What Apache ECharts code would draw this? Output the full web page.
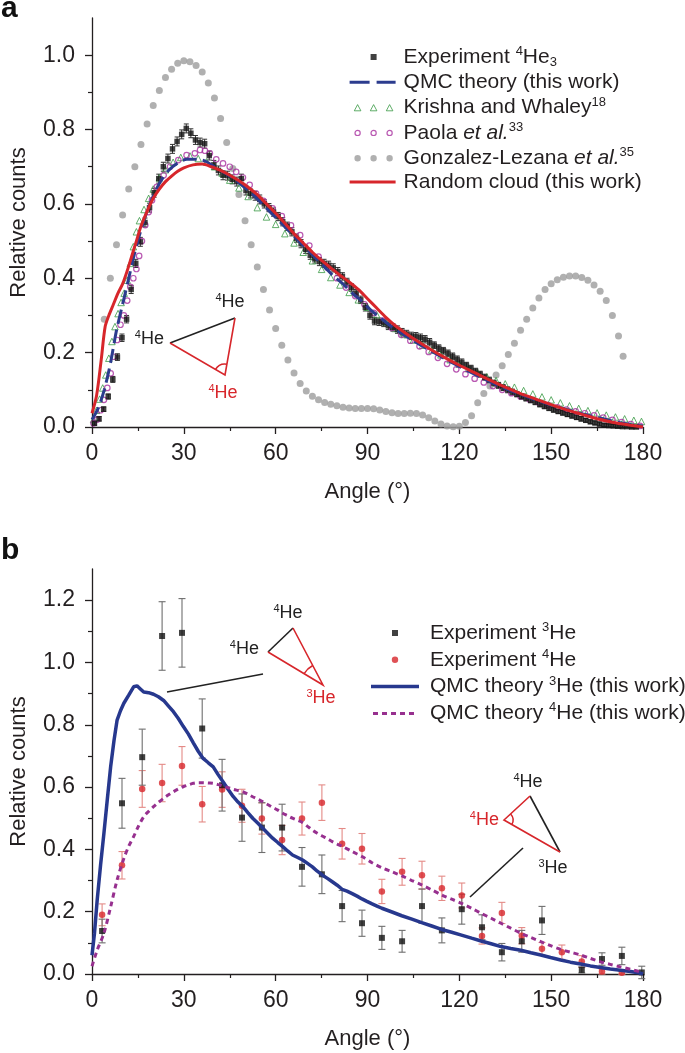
<!DOCTYPE html>
<html><head><meta charset="utf-8">
<script src="https://cdn.jsdelivr.net/npm/echarts@6/dist/echarts.min.js"></script>
<style>html,body{margin:0;padding:0;background:#fff}#c{width:685px;height:1053px}</style>
</head><body><div id="c"></div>
<script>
const FONT = '"Liberation Sans", Arial, Helvetica, sans-serif';
const TXT = '#231f20', AX = '#231f20';

// ---------- tick labels ----------
const xTicks = [0, 30, 60, 90, 120, 150, 180];
const yTicksA = [0, 0.2, 0.4, 0.6, 0.8, 1.0];
const yMinorA = [0.1, 0.3, 0.5, 0.7, 0.9];
const yTicksB = [0, 0.2, 0.4, 0.6, 0.8, 1.0, 1.2];
const yMinorB = [0.1, 0.3, 0.5, 0.7, 0.9, 1.1];

// ---------- panel a ----------
// [angle, relative counts, error]
const expHe3 = [
[0.8,0.010,0.005],[2.3,0.022,0.006],[3.8,0.048,0.006],[5.3,0.082,0.007],[6.8,0.128,0.008],[8.3,0.188,0.009],
[9.8,0.240,0.010],[11.3,0.290,0.010],[12.8,0.370,0.011],[14.3,0.440,0.011],[15.8,0.498,0.012],[17.3,0.550,0.012],
[18.8,0.590,0.012],[20.3,0.630,0.012],[21.8,0.668,0.012],[23.3,0.700,0.012],[24.8,0.722,0.012],[26.3,0.748,0.012],
[27.8,0.768,0.012],[29.3,0.787,0.012],[30.8,0.803,0.012],[32.3,0.790,0.012],[33.8,0.772,0.012],[35.3,0.765,0.012],
[36.8,0.762,0.012],[38.3,0.730,0.012],[39.8,0.705,0.012],[41.3,0.690,0.012],[42.8,0.677,0.012],[44.3,0.676,0.012],
[45.8,0.666,0.012],[47.3,0.660,0.012],[48.8,0.668,0.012],[50.3,0.636,0.012],[51.8,0.628,0.012],[53.3,0.622,0.012],
[54.8,0.612,0.012],[56.3,0.600,0.011],[57.8,0.590,0.011],[59.3,0.578,0.011],[60.8,0.566,0.011],[62.3,0.552,0.011],
[63.8,0.540,0.011],[65.3,0.525,0.011],[66.8,0.508,0.011],[68.3,0.493,0.011],[69.8,0.478,0.011],[71.3,0.462,0.011],
[72.8,0.452,0.011],[74.3,0.445,0.011],[75.8,0.440,0.011],[77.3,0.435,0.011],[78.8,0.428,0.011],[80.3,0.418,0.011],
[81.8,0.405,0.010],[83.3,0.390,0.010],[84.8,0.375,0.010],[86.3,0.360,0.010],[87.8,0.342,0.010],[89.3,0.322,0.010],
[90.8,0.300,0.010],[92.3,0.285,0.010],[93.8,0.283,0.010],[95.3,0.280,0.010],[96.8,0.272,0.010],[98.3,0.268,0.010],
[99.8,0.262,0.010],[101.3,0.255,0.010],[102.8,0.250,0.010],[104.3,0.245,0.010],[105.8,0.244,0.010],[107.3,0.240,0.010],
[108.8,0.236,0.010],[110.3,0.228,0.010],[111.8,0.220,0.009],[113.3,0.212,0.009],[114.8,0.205,0.009],[116.3,0.198,0.009],
[117.8,0.190,0.009],[119.3,0.182,0.009],[120.8,0.174,0.009],[122.3,0.166,0.008],[123.8,0.158,0.008],[125.3,0.150,0.008],
[126.8,0.142,0.008],[128.3,0.134,0.008],[129.8,0.126,0.008],[131.3,0.118,0.008],[132.8,0.112,0.008],[134.3,0.106,0.008],
[135.8,0.100,0.008],[137.3,0.094,0.008],[138.8,0.088,0.007],[140.3,0.082,0.007],[141.8,0.077,0.007],[143.3,0.072,0.007],
[144.8,0.067,0.007],[146.3,0.061,0.007],[147.8,0.056,0.007],[149.3,0.051,0.007],[150.8,0.046,0.006],[152.3,0.042,0.006],
[153.8,0.038,0.006],[155.3,0.034,0.006],[156.8,0.030,0.006],[158.3,0.026,0.006],[159.8,0.022,0.006],[161.3,0.018,0.005],
[162.8,0.014,0.005],[164.3,0.011,0.005],[165.8,0.008,0.005],[167.3,0.005,0.004],[168.8,0.004,0.004],[170.3,0.003,0.004],
[171.8,0.002,0.004],[173.3,0.001,0.003],[174.8,0.001,0.003],[176.3,0.000,0.003],[177.8,0.000,0.003]];

const qmcTheory = [[0,0.02],[2,0.05],[4,0.1],[6,0.17],[8,0.26],[10,0.33],[12,0.40],[14,0.47],[16,0.53],[18,0.58],[20,0.62],[22,0.655],[25,0.69],[28,0.71],[31,0.72],[34,0.72],[37,0.715],[40,0.70],[43,0.685],[46,0.67],[49,0.65],[52,0.63],[55,0.605],[58,0.58],[61,0.555],[64,0.53],[67,0.505],[70,0.48],[73,0.455],[76,0.43],[79,0.405],[82,0.385],[85,0.36],[88,0.34],[91,0.315],[94,0.295],[97,0.275],[100,0.258],[105,0.232],[110,0.208],[115,0.185],[120,0.163],[125,0.142],[130,0.122],[135,0.104],[140,0.088],[145,0.073],[150,0.059],[155,0.047],[160,0.036],[165,0.026],[170,0.016],[175,0.008],[180,0.002]];

const krishnaWhaley = [[0.5,0.02],[1.5,0.045],[2.5,0.075],[3.5,0.105],[4.5,0.14],[5.5,0.185],[6.5,0.23],[7.5,0.27],[8.5,0.305],[9.5,0.335],[10.5,0.36],[11.5,0.395],[12.5,0.44],[13.5,0.485],[14.5,0.525],[15.5,0.555],[17,0.585],[18.5,0.615],[20,0.64],[22,0.67],[24,0.692],[26.5,0.712],[29,0.725],[32,0.729],[34.7,0.722],[37.4,0.713],[40,0.70],[42.5,0.683],[45,0.664],[48,0.643],[51,0.62],[54,0.59],[57,0.565],[60,0.545],[63,0.52],[66,0.495],[69,0.47],[72,0.447],[75,0.424],[78,0.402],[81,0.382],[84,0.362],[87,0.342],[90,0.322],[93,0.302],[96,0.283],[99,0.265],[102,0.249],[105,0.234],[108,0.22],[111,0.207],[114,0.194],[117,0.181],[120,0.169],[123,0.157],[126,0.146],[129,0.135],[132,0.125],[135,0.116],[138,0.107],[141,0.098],[144,0.089],[147,0.081],[150,0.073],[153,0.065],[156,0.057],[159,0.05],[162,0.044],[165,0.038],[168,0.032],[171,0.027],[174,0.022],[177,0.018],[179.5,0.015]];

const paolaEtAl = [[0.5,0.01],[1.7,0.02],[2.8,0.045],[3.9,0.073],[5,0.105],[6.1,0.144],[7.1,0.189],[8.2,0.234],[9.3,0.275],[10.4,0.3],[11.5,0.34],[12.5,0.377],[13.5,0.40],[14.5,0.425],[15.4,0.46],[16.3,0.5],[17.4,0.543],[18.5,0.578],[19.6,0.61],[21.2,0.646],[23.4,0.677],[25.5,0.70],[28.2,0.718],[30.9,0.731],[33.6,0.736],[35.3,0.745],[36.9,0.743],[38.5,0.736],[40.6,0.72],[42.8,0.709],[45,0.70],[47.1,0.686],[49.3,0.671],[51.5,0.651],[53.6,0.628],[56,0.608],[59,0.588],[62,0.567],[65,0.542],[68,0.516],[71,0.488],[74,0.458],[77,0.428],[80,0.40],[83,0.375],[86,0.352],[89,0.33],[92,0.307],[95,0.286],[98,0.266],[101,0.248],[104,0.232],[107,0.217],[110,0.202],[113,0.186],[116,0.17],[119,0.155],[122,0.142],[125,0.13],[128,0.12],[131,0.11],[134,0.1],[137,0.091],[140,0.082],[143,0.074],[146,0.066],[149,0.059],[152,0.053],[155,0.047],[158,0.042],[161,0.037],[164,0.031],[167,0.025],[170,0.019],[173,0.013],[176,0.008],[179,0.003]];

const gonzalezLezana = [[4,0.29],[6,0.40],[8,0.49],[10,0.57],[12,0.64],[14,0.70],[16,0.76],[18,0.815],[20,0.865],[22,0.905],[24,0.94],[26,0.962],[28,0.978],[30,0.985],[32,0.982],[34,0.972],[36,0.955],[38,0.925],[40,0.885],[42,0.83],[44,0.765],[46,0.695],[48,0.625],[50,0.555],[52,0.49],[54,0.43],[56,0.37],[58,0.315],[60,0.265],[62,0.22],[64,0.18],[66,0.145],[68,0.117],[70,0.097],[72,0.083],[74,0.073],[76,0.066],[78,0.061],[80,0.057],[82,0.053],[84,0.051],[86,0.05],[88,0.05],[90,0.05],[92,0.049],[94,0.046],[96,0.042],[98,0.038],[100,0.036],[102,0.036],[104,0.037],[106,0.036],[108,0.032],[110,0.025],[112,0.016],[114,0.008],[116,0.003],[118,0.001],[120,0.002],[122,0.012],[124,0.03],[126,0.065],[128,0.09],[130,0.11],[132,0.14],[134,0.165],[136,0.195],[138,0.225],[140,0.26],[142,0.29],[144,0.32],[146,0.347],[148,0.37],[150,0.385],[152,0.396],[154,0.403],[156,0.406],[158,0.406],[160,0.402],[162,0.395],[164,0.382],[166,0.365],[168,0.34],[170,0.30],[172,0.245],[173.5,0.19]];

const randomCloud = [[0,0.037],[1.5,0.085],[3,0.18],[4.3,0.27],[5.5,0.30],[7,0.33],[8.5,0.36],[10,0.385],[11.5,0.42],[13,0.46],[14.5,0.50],[16,0.54],[18,0.58],[20,0.615],[22,0.64],[24,0.66],[26,0.675],[28,0.688],[30,0.697],[33,0.705],[36,0.707],[39,0.70],[42,0.69],[45,0.677],[48,0.662],[51,0.645],[54,0.625],[57,0.60],[60,0.575],[63,0.548],[66,0.52],[69,0.495],[72,0.47],[75,0.448],[78,0.428],[81,0.408],[84,0.39],[87,0.37],[90,0.345],[93,0.32],[96,0.295],[99,0.273],[102,0.255],[105,0.238],[110,0.212],[115,0.188],[120,0.166],[125,0.146],[130,0.126],[135,0.107],[140,0.09],[145,0.075],[150,0.06],[155,0.046],[160,0.034],[165,0.022],[170,0.013],[175,0.006],[180,0.0]];

// ---------- panel b ----------
const exp3He = [[3.3,0.138,0.038],[9.8,0.548,0.08],[16.4,0.696,0.09],[22.9,1.085,0.11],[29.4,1.095,0.11],[36.0,0.788,0.095],[42.5,0.606,0.083],[49.0,0.502,0.076],[55.5,0.47,0.08],[62.1,0.47,0.075],[68.6,0.344,0.062],[75.1,0.32,0.062],[81.7,0.218,0.05],[88.2,0.163,0.042],[94.7,0.116,0.037],[101.3,0.105,0.035],[107.8,0.218,0.055],[114.3,0.14,0.04],[120.8,0.208,0.048],[127.4,0.15,0.04],[133.9,0.07,0.028],[140.4,0.105,0.035],[147.0,0.172,0.045],[160.0,0.013,0.01],[166.6,0.048,0.02],[173.1,0.058,0.028],[179.6,0.005,0.02]];
const exp4He = [[3.3,0.19,0.035],[9.8,0.349,0.044],[16.4,0.594,0.059],[22.9,0.613,0.06],[29.4,0.668,0.062],[36.0,0.545,0.057],[42.5,0.592,0.057],[49.0,0.54,0.053],[55.5,0.499,0.05],[62.1,0.43,0.047],[68.6,0.499,0.053],[75.1,0.55,0.057],[81.7,0.418,0.049],[88.2,0.402,0.049],[94.7,0.265,0.039],[101.3,0.328,0.043],[107.8,0.317,0.045],[114.3,0.275,0.039],[120.8,0.252,0.04],[127.4,0.122,0.026],[133.9,0.196,0.034],[140.4,0.123,0.026],[147.0,0.081,0.02],[153.5,0.07,0.023],[160.0,0.04,0.019],[166.6,0.008,0.008],[173.1,0.004,0.005]];
const qmc3He = [[0,0.06],[0.8,0.13],[1.7,0.238],[2.8,0.35],[3.9,0.452],[5,0.56],[6.1,0.666],[7.2,0.75],[8.2,0.815],[9.3,0.845],[10.4,0.869],[12,0.895],[13.6,0.922],[14.7,0.925],[15.8,0.915],[16.9,0.905],[18.5,0.903],[20.1,0.898],[21.7,0.89],[23.4,0.878],[25,0.86],[26.6,0.842],[28.2,0.82],[29.8,0.795],[31.5,0.77],[33.1,0.742],[34.7,0.715],[36.3,0.692],[38,0.678],[39.6,0.665],[41.2,0.64],[42.8,0.617],[44.5,0.592],[46.1,0.57],[47.7,0.552],[49.3,0.537],[50.9,0.518],[52.5,0.5],[54.2,0.484],[55.8,0.468],[57.4,0.452],[59,0.436],[60.7,0.422],[62.3,0.409],[63.9,0.395],[65.5,0.382],[67.2,0.374],[68.8,0.366],[70.4,0.355],[72,0.344],[73.6,0.33],[75.2,0.318],[76.9,0.307],[78.5,0.296],[80.1,0.285],[81.7,0.272],[83.3,0.266],[85,0.258],[86.6,0.25],[88.2,0.241],[89.8,0.233],[91.5,0.225],[93.1,0.218],[94.7,0.211],[98,0.199],[101.2,0.187],[104.5,0.176],[107.7,0.165],[111,0.154],[114.2,0.143],[117.5,0.134],[120.7,0.125],[124,0.115],[127.1,0.106],[130.4,0.097],[133.6,0.088],[136.8,0.082],[140.1,0.076],[143.4,0.068],[146.6,0.061],[149.8,0.053],[153.1,0.045],[156.3,0.038],[159.6,0.032],[162.8,0.026],[166.1,0.021],[169.3,0.016],[172.6,0.012],[175.9,0.008],[178.5,0.004],[180,0.0]];
const qmc4He = [[0,0.025],[1.7,0.077],[3.9,0.131],[6.1,0.216],[8.2,0.302],[10.4,0.371],[12,0.41],[13.6,0.441],[15.2,0.475],[16.9,0.505],[18.5,0.522],[20.1,0.537],[21.7,0.551],[23.4,0.564],[25,0.575],[26.6,0.585],[28.2,0.594],[29.8,0.601],[31.5,0.607],[33.1,0.612],[34.7,0.614],[36.3,0.614],[38,0.613],[39.6,0.612],[41.2,0.608],[42.8,0.603],[44.5,0.598],[46.1,0.593],[47.7,0.589],[49.3,0.585],[50.9,0.577],[52.5,0.569],[54.2,0.561],[55.8,0.553],[57.4,0.544],[59,0.535],[60.7,0.526],[62.3,0.516],[63.9,0.508],[65.5,0.5],[67.2,0.493],[68.8,0.486],[70.4,0.474],[72,0.462],[73.6,0.452],[75.2,0.443],[76.9,0.434],[78.5,0.425],[80.1,0.417],[81.7,0.41],[85,0.393],[88.2,0.377],[91.5,0.357],[94.7,0.341],[98,0.328],[101.2,0.315],[104.5,0.3],[107.7,0.286],[111,0.27],[114.2,0.254],[117.5,0.24],[120.7,0.227],[124,0.211],[127.1,0.195],[130.4,0.179],[133.6,0.163],[136.8,0.147],[140.1,0.131],[143.4,0.117],[146.6,0.104],[149.8,0.091],[153.1,0.079],[156.3,0.07],[159.6,0.061],[162.8,0.05],[166.1,0.039],[169.3,0.031],[172.6,0.023],[175.9,0.015],[179,0.007],[180,0.004]];

// ---------- helpers ----------
const xy = arr => arr.map(d => [d[0], d[1]]);
function errRender(color, cap, lw) {
  return function (params, api) {
    const x = api.value(0), y = api.value(1), e = api.value(2);
    const hi = api.coord([x, y + e]), lo = api.coord([x, y - e]);
    const st = { stroke: color, lineWidth: lw, fill: null };
    return { type: 'group', children: [
      { type: 'line', shape: { x1: hi[0], y1: hi[1], x2: lo[0], y2: lo[1] }, style: st },
      { type: 'line', shape: { x1: hi[0] - cap, y1: hi[1], x2: hi[0] + cap, y2: hi[1] }, style: st },
      { type: 'line', shape: { x1: lo[0] - cap, y1: lo[1], x2: lo[0] + cap, y2: lo[1] }, style: st }
    ]};
  };
}
function xAx(g) {
  return { type: 'value', gridIndex: g, min: 0, max: 180, interval: 30,
    axisLine: { show: true, onZero: false, lineStyle: { color: AX, width: 1.3 } },
    axisTick: { show: true, inside: false, length: 7, lineStyle: { color: AX, width: 1.3 } },
    minorTick: { show: true, splitNumber: 2, length: 4, lineStyle: { color: AX, width: 1.2 } },
    splitLine: { show: false }, minorSplitLine: { show: false },
    axisLabel: { fontSize: 23, color: TXT, fontFamily: FONT, margin: 15, customValues: xTicks },
    name: 'Angle (°)', nameLocation: 'middle', nameGap: 54,
    nameTextStyle: { fontSize: 22, color: TXT, fontFamily: FONT } };
}
function yAx(g, max, majors) {
  return { type: 'value', gridIndex: g, min: 0, max: max, interval: 0.1, position: 'left',
    axisLine: { show: true, onZero: false, lineStyle: { color: AX, width: 1.3 } },
    axisTick: { show: true, inside: false, length: 7, customValues: majors, lineStyle: { color: AX, width: 1.3 } },
    axisLabel: { customValues: majors, formatter: v => v.toFixed(1), fontSize: 23, color: TXT, fontFamily: FONT, margin: 17 },
    splitLine: { show: false },
    name: 'Relative counts', nameLocation: 'middle', nameGap: 62,
    nameTextStyle: { fontSize: 22, color: TXT, fontFamily: FONT } };
}
function yMinor(g, max, minors) {
  return { type: 'value', gridIndex: g, min: 0, max: max, interval: 0.1, position: 'left',
    axisLine: { show: false },
    axisTick: { show: true, inside: false, length: 4, customValues: minors, lineStyle: { color: AX, width: 1.2 } },
    axisLabel: { show: false }, splitLine: { show: false } };
}

const richLegend = {
  n: { fontSize: 21, lineHeight: 24, fontFamily: FONT, color: TXT },
  it: { fontSize: 21, lineHeight: 24, fontFamily: FONT, fontStyle: 'italic', color: TXT },
  sup: { fontSize: 13, lineHeight: 14, verticalAlign: 'top', fontFamily: FONT, color: TXT },
  sub: { fontSize: 13, lineHeight: 12, verticalAlign: 'bottom', fontFamily: FONT, color: TXT }
};
const LABELS = {
  'Experiment 4He3': '{n|Experiment }{sup|4}{n|He}{sub|3}',
  'QMC theory (this work)': '{n|QMC theory (this work)}',
  'Krishna and Whaley': '{n|Krishna and Whaley}{sup|18}',
  'Paola et al.': '{n|Paola }{it|et al.}{sup|33}',
  'Gonzalez-Lezana et al.': '{n|Gonzalez-Lezana }{it|et al.}{sup|35}',
  'Random cloud (this work)': '{n|Random cloud (this work)}',
  'Experiment 3He': '{n|Experiment }{sup|3}{n|He}',
  'Experiment 4He': '{n|Experiment }{sup|4}{n|He}',
  'QMC theory 3He (this work)': '{n|QMC theory }{sup|3}{n|He (this work)}',
  'QMC theory 4He (this work)': '{n|QMC theory }{sup|4}{n|He (this work)}'
};
const BOXA = 'M0,0L0.01,0M49,10L48.99,10';
const BOXB = 'M0,0L0.01,0M59,10L58.99,10';
const tri = cx => `M${cx-3.3},8.2L${cx},2L${cx+3.3},8.2Z`;
const circ = (cx, r) => `M${cx+r},5A${r},${r} 0 1,1 ${cx-r},5A${r},${r} 0 1,1 ${cx+r},5Z`;

const C = { grey: '#9c9c9c', green: '#3a9a45', mag: '#a8309f', blueA: '#2c3c8e', red: '#d7262b',
            blueB: '#27388e', purple: '#97308f', redErr: '#e48a86', greyErr: '#6e6e6e' };

const sup = { fontSize: 11, lineHeight: 12, verticalAlign: 'top', fontFamily: FONT };
function heLabel(x, y, mass, color, align) {
  return { type: 'text', x: x, y: y, z: 50,
    style: { text: `{s|${mass}}{n|He}`, align: align || 'center', verticalAlign: 'middle', fill: color,
      rich: { s: Object.assign({ fill: color }, sup), n: { fontSize: 18, lineHeight: 20, fontFamily: FONT, fill: color } } } };
}
const lineEl = (pts, color) => ({ type: 'polyline', z: 50, shape: { points: pts }, style: { stroke: color, lineWidth: 1.6, fill: null } });
const arcEl = (cx, cy, r, a0, a1, color) => ({ type: 'arc', z: 50, shape: { cx, cy, r, startAngle: a0, endAngle: a1, clockwise: true }, style: { stroke: color, lineWidth: 1.5, fill: null } });

const chart = echarts.init(document.getElementById('c'), null, { renderer: 'canvas' });
chart.setOption({
  backgroundColor: '#fff',
  animation: false,
  textStyle: { fontFamily: FONT },
  grid: [
    { left: 88, top: 18, width: 555, height: 409 },
    { left: 88, top: 569, width: 555, height: 405 }
  ],
  xAxis: [xAx(0), xAx(1)],
  yAxis: [yAx(0, 1.1, yTicksA), yMinor(0, 1.1, yMinorA), yAx(1, 1.3, yTicksB), yMinor(1, 1.3, yMinorB)],
  legend: [
    { left: 349, top: 45, orient: 'vertical', padding: 0, itemGap: 2.8, itemWidth: 49, itemHeight: 10, selectedMode: false,
      formatter: n => LABELS[n], textStyle: { rich: richLegend, fontSize: 21, color: TXT, fontFamily: FONT },
      data: [
        { name: 'Experiment 4He3', icon: 'path://' + BOXA + 'M21,2h6v6h-6z' },
        { name: 'QMC theory (this work)', icon: 'path://' + BOXA + 'M0,3.5h20v3h-20zM27,3.5h19v3h-19z', itemStyle: { borderWidth: 0 } },
        { name: 'Krishna and Whaley', icon: 'path://' + BOXA + tri(8) + tri(24) + tri(40), itemStyle: { borderWidth: 1 } },
        { name: 'Paola et al.', icon: 'path://' + BOXA + circ(8, 2.6) + circ(24, 2.6) + circ(40, 2.6), itemStyle: { borderWidth: 1.2 } },
        { name: 'Gonzalez-Lezana et al.', icon: 'path://' + BOXA + circ(8, 3.2) + circ(24, 3.2) + circ(40, 3.2) },
        { name: 'Random cloud (this work)', icon: 'path://' + BOXA + 'M0,3.5h46v3h-46z', itemStyle: { borderWidth: 0 } }
      ] },
    { left: 366, top: 621, orient: 'vertical', padding: 0, itemGap: 4.3, itemWidth: 59, itemHeight: 10, selectedMode: false,
      formatter: n => LABELS[n], textStyle: { rich: richLegend, fontSize: 21, color: TXT, fontFamily: FONT },
      data: [
        { name: 'Experiment 3He', icon: 'path://' + BOXB + 'M26,2h6v6h-6z' },
        { name: 'Experiment 4He', icon: 'path://' + BOXB + circ(29, 3.2) },
        { name: 'QMC theory 3He (this work)', icon: 'path://' + BOXB + 'M5,3.25h48v3.5h-48z', itemStyle: { borderWidth: 0 } },
        { name: 'QMC theory 4He (this work)', icon: 'path://' + BOXB + 'M7,3.5h5v3h-5zM16,3.5h5v3h-5zM25,3.5h5v3h-5zM34,3.5h5v3h-5zM43,3.5h5v3h-5z', itemStyle: { borderWidth: 0 } }
      ] }
  ],
  series: [
    // ---- panel a ----
    { name: 'Gonzalez-Lezana et al.', type: 'scatter', xAxisIndex: 0, yAxisIndex: 0, data: xy(gonzalezLezana),
      symbol: 'circle', symbolSize: 7, itemStyle: { color: C.grey } },
    { name: 'Krishna and Whaley', type: 'scatter', xAxisIndex: 0, yAxisIndex: 0, data: xy(krishnaWhaley),
      symbol: 'triangle', symbolSize: 6.5, itemStyle: { color: 'rgba(255,255,255,0)', borderColor: C.green, borderWidth: 1 } },
    { name: 'Paola et al.', type: 'scatter', xAxisIndex: 0, yAxisIndex: 0, data: xy(paolaEtAl),
      symbol: 'circle', symbolSize: 5.5, itemStyle: { color: 'rgba(255,255,255,0)', borderColor: C.mag, borderWidth: 1.2 } },
    { name: 'QMC theory (this work)', type: 'line', xAxisIndex: 0, yAxisIndex: 0, data: xy(qmcTheory),
      showSymbol: false, symbol: 'none', smooth: 0.3, lineStyle: { color: C.blueA, width: 3, type: [14, 6] }, itemStyle: { color: C.blueA } },
    { name: 'Random cloud (this work)', type: 'line', xAxisIndex: 0, yAxisIndex: 0, data: xy(randomCloud),
      showSymbol: false, symbol: 'none', smooth: 0.3, lineStyle: { color: C.red, width: 3 }, itemStyle: { color: C.red } },
    { name: 'errA', type: 'custom', xAxisIndex: 0, yAxisIndex: 0, data: expHe3, encode: { x: 0, y: 1 },
      renderItem: errRender('#333', 2.5, 1) },
    { name: 'Experiment 4He3', type: 'scatter', xAxisIndex: 0, yAxisIndex: 0, data: xy(expHe3),
      symbol: 'rect', symbolSize: 5.5, itemStyle: { color: '#111' } },
    // ---- panel b ----
    { name: 'QMC theory 3He (this work)', type: 'line', xAxisIndex: 1, yAxisIndex: 2, data: qmc3He,
      showSymbol: false, symbol: 'none', lineStyle: { color: C.blueB, width: 3.5 }, itemStyle: { color: C.blueB } },
    { name: 'QMC theory 4He (this work)', type: 'line', xAxisIndex: 1, yAxisIndex: 2, data: qmc4He,
      showSymbol: false, symbol: 'none', smooth: 0.3, lineStyle: { color: C.purple, width: 3, type: [5, 4] }, itemStyle: { color: C.purple } },
    { name: 'errB4', type: 'custom', xAxisIndex: 1, yAxisIndex: 2, data: exp4He, encode: { x: 0, y: 1 },
      renderItem: errRender(C.redErr, 3.5, 1.1) },
    { name: 'errB3', type: 'custom', xAxisIndex: 1, yAxisIndex: 2, data: exp3He, encode: { x: 0, y: 1 },
      renderItem: errRender(C.greyErr, 3.5, 1.1) },
    { name: 'Experiment 4He', type: 'scatter', xAxisIndex: 1, yAxisIndex: 2, data: xy(exp4He),
      symbol: 'circle', symbolSize: 6.5, itemStyle: { color: C.red } },
    { name: 'Experiment 3He', type: 'scatter', xAxisIndex: 1, yAxisIndex: 2, data: xy(exp3He),
      symbol: 'rect', symbolSize: 6, itemStyle: { color: '#111' } }
  ],
  graphic: [
    { type: 'text', x: 1, y: 9, style: { text: 'a', font: 'bold 30px ' + FONT, fill: '#111', verticalAlign: 'middle' } },
    { type: 'text', x: 1, y: 551, style: { text: 'b', font: 'bold 30px ' + FONT, fill: '#111', verticalAlign: 'middle' } },
    // panel a inset
    lineEl([[170, 343], [235, 318]], '#222'),
    lineEl([[170, 343], [225, 375], [235, 318]], C.red),
    arcEl(225, 375, 11, Math.atan2(-32, -55), Math.atan2(-57, 10), C.red),
    heLabel(230, 302, 4, '#222'),
    heLabel(164, 339, 4, '#222', 'right'),
    heLabel(223, 393, 4, C.red),
    // panel b inset 1
    lineEl([[167, 692], [263, 674]], '#222'),
    lineEl([[268, 652], [293, 628]], '#222'),
    lineEl([[268, 652], [323, 685], [293, 628]], C.red),
    arcEl(323, 685, 22, Math.atan2(-33, -55), Math.atan2(-57, -30), C.red),
    heLabel(288, 613, 4, '#222'),
    heLabel(259, 649, 4, '#222', 'right'),
    heLabel(321, 698, 3, C.red),
    // panel b inset 2
    lineEl([[470, 897], [523, 848]], '#222'),
    lineEl([[530, 796], [560, 852]], '#222'),
    lineEl([[530, 796], [504, 820], [560, 852]], C.red),
    arcEl(504, 820, 9, Math.atan2(-24, 26), Math.atan2(32, 56), C.red),
    heLabel(528, 782, 4, '#222'),
    heLabel(499, 820, 4, C.red, 'right'),
    heLabel(553, 868, 3, '#222')
  ]
});
</script>
</body></html>
